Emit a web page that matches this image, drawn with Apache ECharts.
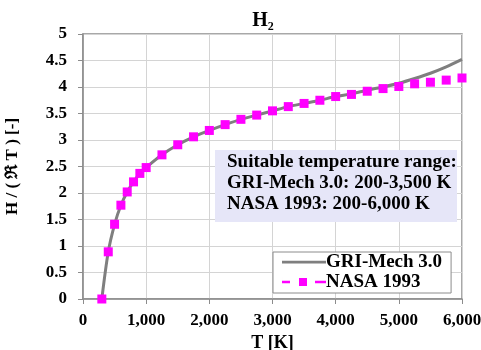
<!DOCTYPE html>
<html>
<head>
<meta charset="utf-8">
<script src="https://cdn.jsdelivr.net/npm/echarts@6/dist/echarts.min.js"></script>
<style>
  html, body { margin: 0; padding: 0; background: #fff; }
  #chart { width: 481px; height: 350px; }
</style>
</head>
<body>
<div id="chart"></div>
<script>
// temperatures [K]
const temps = [298.15, 400, 500, 600, 700, 800, 900, 1000, 1250, 1500, 1750, 2000, 2250, 2500,
    2750, 3000, 3250, 3500, 3750, 4000, 4250, 4500, 4750, 5000, 5250, 5500, 5750, 6000];
// H / (R T), NASA 1993 fit
const nasa = [0, 0.89, 1.41, 1.77, 2.02, 2.21, 2.37, 2.48, 2.72, 2.91, 3.06, 3.18, 3.29, 3.39,
    3.47, 3.55, 3.63, 3.69, 3.75, 3.82, 3.86, 3.92, 3.97, 4.01, 4.06, 4.09, 4.13, 4.17];
// H / (R T), GRI-Mech 3.0 (extrapolated past 3,500 K)
const gri = [0, 0.89, 1.41, 1.77, 2.02, 2.21, 2.37, 2.48, 2.72, 2.91, 3.06, 3.18, 3.29, 3.39,
    3.47, 3.55, 3.63, 3.69, 3.75, 3.82, 3.87, 3.94, 4.00, 4.07, 4.16, 4.26, 4.38, 4.52];
const noteLines = [
    'Suitable temperature range:',
    'GRI-Mech 3.0: 200-3,500 K',
    'NASA 1993: 200-6,000 K'
];

const font = '"Liberation Serif", "Times New Roman", serif';
const pair = (ys) => temps.map((t, i) => [t, ys[i]]);

// legend icons (44 x 10 boxes): solid line / dash-square-dash
const solidIcon = 'path://M0,0h0.01v10h-0.01z M0,3.8h44v2.6h-44z';
const dashIcon = 'path://M0,0h0.01v10h-0.01z M0,3.8h8v2.4h-8z M17,1h8v8h-8z M33,3.8h11v2.4h-11z';

const chart = echarts.init(document.getElementById('chart'));
chart.setOption({
    backgroundColor: '#fff',
    animation: false,
    title: {
        text: 'H₂',
        left: 258,
        top: 6,
        textAlign: 'center',
        textStyle: { fontFamily: font, fontWeight: 'bold', fontSize: 20, color: '#000' }
    },
    grid: {
        left: 83, right: 19, top: 34, bottom: 51,
        containLabel: false,
        outerBoundsMode: 'none',
        show: true, borderColor: '#8c8c8c', borderWidth: 1.5
    },
    xAxis: {
        type: 'value',
        min: 0,
        max: 6000,
        interval: 1000,
        name: 'T [K]',
        nameLocation: 'middle',
        nameGap: 33,
        nameTextStyle: { fontFamily: font, fontWeight: 'bold', fontSize: 18, color: '#000' },
        axisLine: { lineStyle: { color: '#8c8c8c', width: 1.5 } },
        axisTick: { show: true, length: 5, lineStyle: { color: '#8c8c8c' } },
        axisLabel: {
            fontFamily: font, fontWeight: 'bold', fontSize: 17, color: '#000', margin: 13,
            formatter: (v) => v.toLocaleString('en-US')
        },
        splitLine: { lineStyle: { color: '#d4d4d4' } }
    },
    yAxis: {
        type: 'value',
        min: 0,
        max: 5,
        interval: 0.5,
        name: 'H / ( ℜ T ) [-]',
        nameLocation: 'middle',
        nameGap: 62,
        nameTextStyle: { fontFamily: font, fontWeight: 'bold', fontSize: 17, color: '#000' },
        axisLine: { show: true, lineStyle: { color: '#8c8c8c', width: 1.5 } },
        axisTick: { show: true, length: 5, lineStyle: { color: '#8c8c8c' } },
        axisLabel: { fontFamily: font, fontWeight: 'bold', fontSize: 17, color: '#000', margin: 16 },
        splitLine: { lineStyle: { color: '#d4d4d4' } }
    },
    legend: {
        orient: 'vertical',
        left: 273,
        top: 252,
        padding: [0, 9, 1, 9],
        itemGap: 0,
        itemWidth: 44,
        itemHeight: 10,
        backgroundColor: '#fff',
        borderColor: '#8c8c8c',
        borderWidth: 1,
        textStyle: {
            fontFamily: font, fontWeight: 'bold', fontSize: 19, color: '#000',
            lineHeight: 20, padding: [0, 0, 0, -5]
        },
        data: [
            { name: 'GRI-Mech 3.0', icon: solidIcon, itemStyle: { color: '#7f7f7f' } },
            { name: 'NASA 1993', icon: dashIcon, itemStyle: { color: '#ff00ff' } }
        ]
    },
    graphic: [{
        type: 'group',
        left: 215,
        top: 150,
        children: [{
            type: 'rect',
            z: 100,
            shape: { x: 0, y: 0, width: 242, height: 72 },
            style: { fill: '#e6e6f8' }
        }].concat(noteLines.map((line, i) => ({
            type: 'text',
            z: 101,
            left: 12,
            top: 3 + i * 21,
            style: {
                text: line,
                font: 'bold 19px ' + font,
                fill: '#000'
            }
        })))
    }],
    series: [
        {
            name: 'GRI-Mech 3.0',
            type: 'line',
            data: pair(gri),
            smooth: 0.3,
            showSymbol: false,
            symbol: 'none',
            lineStyle: { color: '#7f7f7f', width: 3 },
            itemStyle: { color: '#7f7f7f' },
            z: 2
        },
        {
            name: 'NASA 1993',
            type: 'line',
            data: pair(nasa),
            symbol: 'rect',
            symbolSize: 9,
            lineStyle: { color: '#ff00ff', width: 2, opacity: 0 },
            itemStyle: { color: '#ff00ff' },
            z: 3
        }
    ]
});
</script>
</body>
</html>
